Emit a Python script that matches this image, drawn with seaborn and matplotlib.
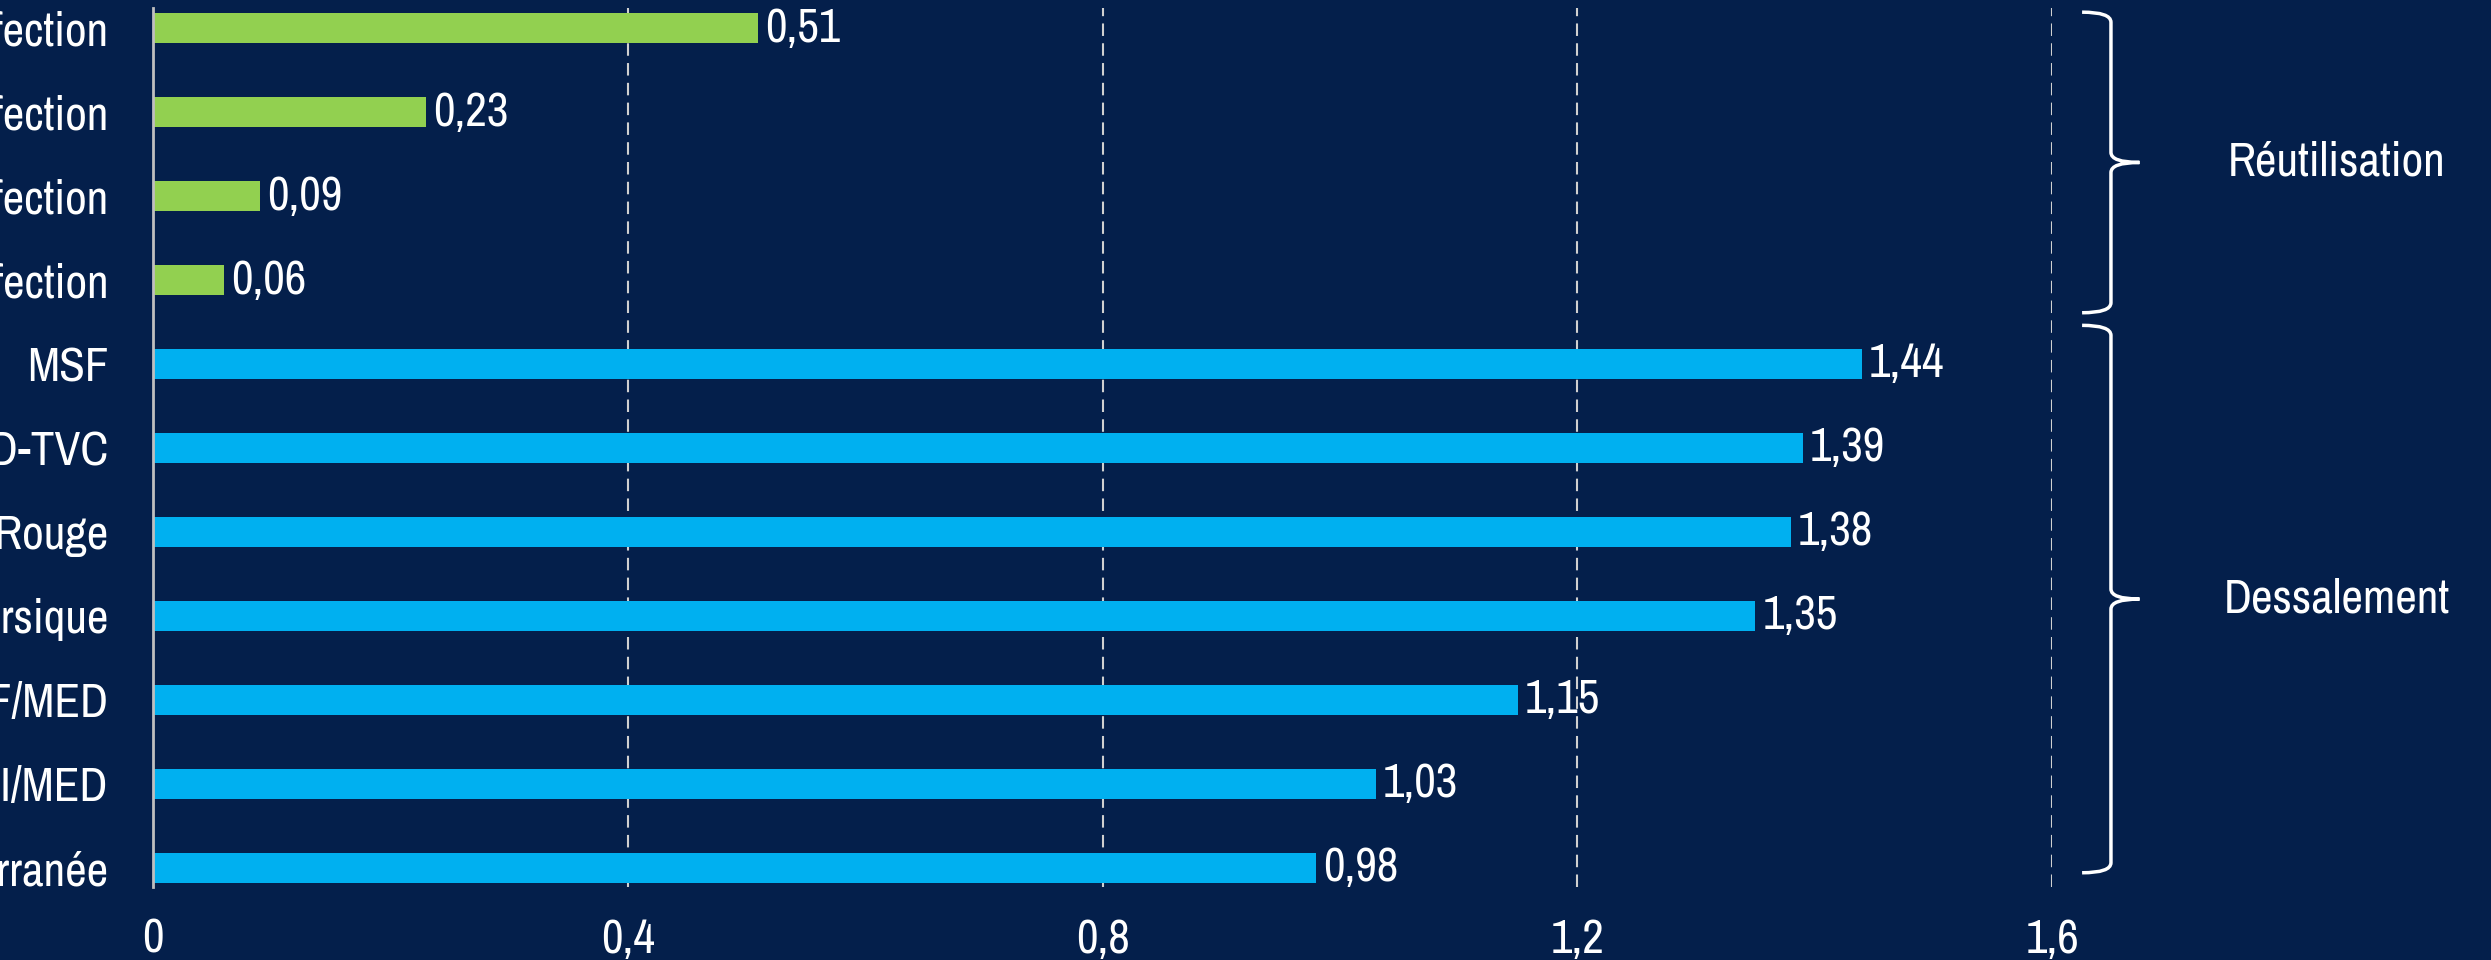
import numpy as np
import pandas as pd
import matplotlib.pyplot as plt
import matplotlib.transforms as mtransforms
from matplotlib.path import Path
from matplotlib.patches import PathPatch
import seaborn as sns

# Données (kWh/m3)
categories = [
    "Traitement tertiaire + désinfection",
    "Filtration + désinfection",
    "Traitement secondaire + désinfection",
    "Lagunage + désinfection",
    "MSF",
    "MED-TVC",
    "Mer Rouge",
    "Golfe Persique",
    "MSF/MED",
    "OI/MED",
    "Méditerranée",
]
valeurs = [0.51, 0.23, 0.09, 0.06, 1.44, 1.39, 1.38, 1.35, 1.15, 1.03, 0.98]
groupes = ["Réutilisation"] * 4 + ["Dessalement"] * 7
xticks = [0, 0.4, 0.8, 1.2, 1.6]
xtick_labels = ["0", "0,4", "0,8", "1,2", "1,6"]

# accolades : (nom, début, fin) en position de catégorie
accolades = [("Réutilisation", -0.19, 3.39), ("Dessalement", 3.54, 10.06)]

fond = "#041F4B"
couleurs = {"Réutilisation": "#92D050", "Dessalement": "#00B0F0"}
taille = 34

sns.set_style("white")
plt.rcParams["font.family"] = ["Archivo Narrow", "Liberation Sans", "DejaVu Sans"]

df = pd.DataFrame({"cat": categories, "val": valeurs, "grp": groupes})

fig = plt.figure(figsize=(24.91, 9.6), dpi=100, facecolor=fond)
ax = fig.add_axes([0.0614, 0.076, 0.7624, 0.9157])
ax.set_facecolor(fond)

sns.barplot(data=df, y="cat", x="val", hue="grp", palette=couleurs,
            dodge=False, width=0.36, legend=False, ax=ax, orient="h",
            saturation=1, linewidth=0, zorder=3)

# étiquettes de valeurs
for cont in ax.containers:
    labs = [f"{b.get_width():.2f}".replace(".", ",").rstrip("0").rstrip(",")
            for b in cont]
    ax.bar_label(cont, labels=labs, padding=5, color="white", fontsize=taille, zorder=1)

ax.set_xlim(0, 1.6)
ax.set_ylim(10.23, -0.24)
ax.set_xticks(xticks)
ax.set_xticklabels(xtick_labels)
ax.set_xlabel("")
ax.set_ylabel("")
ax.tick_params(axis="x", length=0, pad=22, labelsize=taille, labelcolor="white")
ax.tick_params(axis="y", length=0, pad=32, labelsize=taille, labelcolor="white")

for s in ["top", "right", "bottom"]:
    ax.spines[s].set_visible(False)
ax.spines["left"].set_color("#BFBFBF")
ax.spines["left"].set_linewidth(2)
ax.spines["left"].set_zorder(4)

for xv in xticks[1:]:
    ax.axvline(xv, color="#D0D0D0", lw=1.5, ls=(0, (6, 3.5)), zorder=2)

# accolades à droite
trans = mtransforms.blended_transform_factory(ax.transAxes, ax.transData)
x0, x1, x2 = 1.0158, 1.031, 1.046
for nom, y0, y1 in accolades:
    ym = (y0 + y1) / 2
    r = 0.12
    verts = [(x0, y0), (x1, y0), (x1, y0 + r),
             (x1, ym - r),
             (x1, ym), (x2, ym),
             (x1, ym), (x1, ym + r),
             (x1, y1 - r),
             (x1, y1), (x0, y1)]
    codes = [Path.MOVETO, Path.CURVE3, Path.CURVE3,
             Path.LINETO,
             Path.CURVE3, Path.CURVE3,
             Path.CURVE3, Path.CURVE3,
             Path.LINETO,
             Path.CURVE3, Path.CURVE3]
    ax.add_patch(PathPatch(Path(verts, codes), transform=trans, fill=False,
                           edgecolor="white", lw=2.5, clip_on=False))
    ax.text(1.15, ym, nom, transform=trans, color="white", fontsize=taille,
            ha="center", va="center", clip_on=False)

fig.savefig("out.png", dpi=100, facecolor=fond)
